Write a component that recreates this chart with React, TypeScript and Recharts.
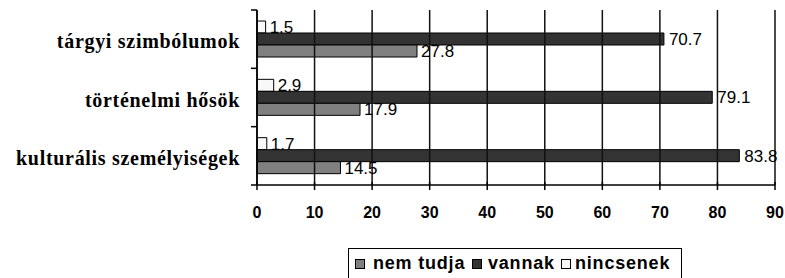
import React from "react"
import { BarChart, Bar, XAxis, YAxis, Legend, LabelList, ReferenceLine } from "recharts"

const categories = ["tárgyi szimbólumok", "történelmi hősök", "kulturális személyiségek"]
const nemTudja = [27.8, 17.9, 14.5]
const vannak = [70.7, 79.1, 83.8]
const nincsenek = [1.5, 2.9, 1.7]
const xTicks = [0, 10, 20, 30, 40, 50, 60, 70, 80, 90]

const data = categories.map((name, i) => ({
  name,
  nemTudja: nemTudja[i],
  vannak: vannak[i],
  nincsenek: nincsenek[i],
}))

const sans = "'Liberation Sans', Arial, sans-serif"
const serif = "'Liberation Serif', 'Times New Roman', serif"

const CHART_W = 785
const CHART_H = 278
const MARGIN = { top: 10, right: 10, left: 0, bottom: 0 }
const X_AXIS_H = 93
const BAND = (CHART_H - MARGIN.top - X_AXIS_H) / categories.length
const LINE_W = 1.5

// legend order differs from the bar order
const legendItems = [
  { label: "nem tudja", color: "#808080", sq: 6, tx: 24 },
  { label: "vannak", color: "#333333", sq: 123, tx: 139 },
  { label: "nincsenek", color: "#f8f8f8", sq: 212, tx: 226 },
]

// x ticks cross the axis line, labels bold underneath
const XTick = (props: any) => {
  const { x, y, payload } = props
  return (
    <g>
      <line x1={x} x2={x} y1={y - 3} y2={y + 5} stroke="#000" strokeWidth={LINE_W} />
      <text x={x} y={y + 33} textAnchor="middle" fontFamily={sans} fontWeight="bold" fontSize={16} fill="#000">
        {payload.value}
      </text>
    </g>
  )
}

// category ticks sit on the band edges (Excel style), label in the middle
const YTick = (props: any) => {
  const { x, y, payload, index } = props
  const last = index === categories.length - 1
  return (
    <g>
      <line x1={x - 6} x2={x} y1={y - BAND / 2} y2={y - BAND / 2} stroke="#000" strokeWidth={LINE_W} />
      {last && <line x1={x - 6} x2={x} y1={y + BAND / 2} y2={y + BAND / 2} stroke="#000" strokeWidth={LINE_W} />}
      <text
        x={x - 17}
        y={y + 9}
        textAnchor="end"
        fontFamily={serif}
        fontWeight="bold"
        fontSize={20}
        letterSpacing={0.7}
        fill="#000"
      >
        {payload.value}
      </text>
    </g>
  )
}

const LegendBox = () => (
  <div
    style={{
      position: "relative",
      border: "1px solid #000",
      height: 40,
      boxSizing: "border-box",
      fontFamily: sans,
      fontWeight: "bold",
      fontSize: 18,
      lineHeight: "18px",
      letterSpacing: 0.8,
      color: "#000",
      background: "#fff",
    }}
  >
    {legendItems.map((it) => (
      <React.Fragment key={it.label}>
        <span
          style={{
            position: "absolute",
            left: it.sq,
            top: 10,
            width: 8,
            height: 8,
            border: "1px solid #000",
            background: it.color,
          }}
        />
        <span style={{ position: "absolute", left: it.tx, top: 5, whiteSpace: "nowrap" }}>{it.label}</span>
      </React.Fragment>
    ))}
  </div>
)

export default function App() {
  return (
    <div style={{ position: "absolute", left: 0, top: 0, width: CHART_W, height: CHART_H, background: "#fff" }}>
      <BarChart
        width={CHART_W}
        height={CHART_H}
        data={data}
        layout="vertical"
        margin={MARGIN}
        barSize={12}
        barGap={0}
      >
        <XAxis
          type="number"
          domain={[0, 90]}
          ticks={xTicks}
          interval={0}
          height={X_AXIS_H}
          axisLine={{ stroke: "#000", strokeWidth: LINE_W }}
          tickLine={false}
          tickSize={0}
          tickMargin={0}
          tick={<XTick />}
        />
        <YAxis
          type="category"
          dataKey="name"
          width={257}
          axisLine={{ stroke: "#000", strokeWidth: LINE_W }}
          tickLine={false}
          tickSize={0}
          tickMargin={0}
          tick={<YTick />}
        />
        {xTicks.map((t) => (
          <ReferenceLine key={t} x={t} stroke="#111" strokeWidth={LINE_W} />
        ))}
        <Legend
          layout="horizontal"
          verticalAlign="middle"
          align="center"
          wrapperStyle={{ left: 348, top: 248, width: 334, height: 40 }}
          content={<LegendBox />}
        />
        <Bar dataKey="nincsenek" name="nincsenek" fill="#f8f8f8" stroke="#000" isAnimationActive={false}>
          <LabelList dataKey="nincsenek" position="right" offset={4} fill="#000" fontFamily={sans} fontSize={17} />
        </Bar>
        <Bar dataKey="vannak" name="vannak" fill="#333333" stroke="#000" isAnimationActive={false}>
          <LabelList dataKey="vannak" position="right" offset={5} fill="#000" fontFamily={sans} fontSize={17} />
        </Bar>
        <Bar dataKey="nemTudja" name="nem tudja" fill="#808080" stroke="#000" isAnimationActive={false}>
          <LabelList dataKey="nemTudja" position="right" offset={4} fill="#000" fontFamily={sans} fontSize={17} />
        </Bar>
      </BarChart>
    </div>
  )
}
